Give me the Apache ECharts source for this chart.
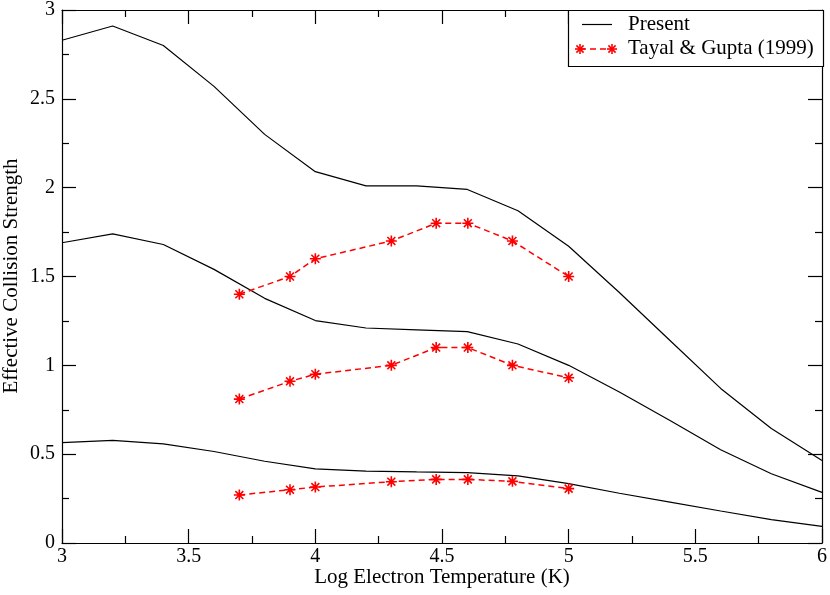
<!DOCTYPE html>
<html>
<head>
<meta charset="utf-8">
<script src="https://cdn.jsdelivr.net/npm/echarts@6/dist/echarts.min.js"></script>
<style>
  html, body { margin: 0; padding: 0; background: #fff; }
  #chart { width: 830px; height: 595px; }
</style>
</head>
<body>
<div id="chart"></div>
<script>
// log T grid of the present calculation
const tempPresent = [3.0, 3.2, 3.4, 3.6, 3.8, 4.0, 4.2, 4.4, 4.6, 4.8, 5.0, 5.2, 5.4, 5.6, 5.8, 6.0];
const presentA = [2.83, 2.91, 2.80, 2.57, 2.30, 2.09, 2.01, 2.01, 1.99, 1.87, 1.67, 1.41, 1.14, 0.87, 0.645, 0.465];
const presentB = [1.69, 1.74, 1.68, 1.54, 1.377, 1.252, 1.21, 1.20, 1.19, 1.12, 1.00, 0.85, 0.69, 0.525, 0.39, 0.285];
const presentC = [0.565, 0.578, 0.558, 0.515, 0.46, 0.417, 0.405, 0.40, 0.396, 0.378, 0.334, 0.28, 0.23, 0.18, 0.132, 0.094];

// Tayal & Gupta (1999)
const tempTayal = [3.7, 3.9, 4.0, 4.3, 4.477, 4.602, 4.778, 5.0];
const tayalA = [1.40, 1.50, 1.60, 1.70, 1.80, 1.80, 1.70, 1.50];
const tayalB = [0.81, 0.91, 0.95, 1.00, 1.10, 1.10, 1.00, 0.93];
const tayalC = [0.27, 0.30, 0.315, 0.345, 0.358, 0.358, 0.347, 0.306];

const xTicks = [3, 3.5, 4, 4.5, 5, 5.5, 6];
const yTicks = [0, 0.5, 1, 1.5, 2, 2.5, 3];

const FONT = "Liberation Serif";
const star = "path://M0,-5L0,5M-5,0L5,0M-3.6,-3.6L3.6,3.6M-3.6,3.6L3.6,-3.6";

const pairs = (xs, ys) => xs.map((x, i) => [x, ys[i]]);

const blackLine = (data) => ({
  name: "Present",
  type: "line",
  data: data,
  symbol: "none",
  lineStyle: { color: "#000", width: 1.2 },
  silent: true,
  z: 2,
});
const redLine = (data) => ({
  name: "Tayal & Gupta (1999)",
  type: "line",
  data: data,
  symbol: star,
  symbolSize: 11,
  itemStyle: { color: "#ff0000", borderColor: "#ff0000", borderWidth: 1.6 },
  lineStyle: { color: "#ff0000", width: 1.5, type: [6, 4] },
  silent: true,
  z: 3,
});

// legend drawn by hand so the red entry shows a symbol at both ends
const starLines = (cx, cy) => {
  const r = 5, d = 3.6;
  const segs = [[0, -r, 0, r], [-r, 0, r, 0], [-d, -d, d, d], [-d, d, d, -d]];
  return segs.map(s => ({
    type: "line",
    z: 12,
    shape: { x1: cx + s[0], y1: cy + s[1], x2: cx + s[2], y2: cy + s[3] },
    style: { stroke: "#ff0000", lineWidth: 1.6 },
  }));
};

const tickStyle = () => ({ show: true, inside: true, length: 14, lineStyle: { color: "#000", width: 1.2 } });
const minorStyle = () => ({ show: true, splitNumber: 2, length: 7, lineStyle: { color: "#000", width: 1.2 } });

const chart = echarts.init(document.getElementById("chart"));
chart.setOption({
  animation: false,
  backgroundColor: "#fff",
  grid: { left: 62, right: 7, top: 10, bottom: 52 },
  xAxis: [
    {
      type: "value", min: 3, max: 6, interval: 0.5,
      splitLine: { show: false },
      axisLine: { lineStyle: { color: "#000", width: 1.2 } },
      axisTick: tickStyle(),
      minorTick: minorStyle(),
      name: "Log Electron Temperature (K)",
      nameLocation: "middle",
      nameGap: 24,
      nameMoveOverlap: false,
      nameTextStyle: { fontFamily: FONT, fontSize: 21, color: "#000" },
      axisLabel: {
        fontFamily: FONT, fontSize: 20, color: "#000", margin: 4,
        formatter: v => xTicks.includes(v) ? String(v) : "",
      },
    },
    {
      type: "value", min: 3, max: 6, interval: 0.5, position: "top",
      splitLine: { show: false },
      axisLine: { onZero: false, lineStyle: { color: "#000", width: 1.2 } },
      axisTick: tickStyle(),
      minorTick: minorStyle(),
      axisLabel: { show: false },
    },
  ],
  yAxis: [
    {
      type: "value", min: 0, max: 3, interval: 0.5,
      splitLine: { show: false },
      axisLine: { show: true, lineStyle: { color: "#000", width: 1.2 } },
      axisTick: tickStyle(),
      minorTick: minorStyle(),
      axisLabel: {
        fontFamily: FONT, fontSize: 20, color: "#000", margin: 7,
        formatter: v => yTicks.includes(v) ? String(v) : "",
      },
    },
    {
      type: "value", min: 0, max: 3, interval: 0.5, position: "right",
      splitLine: { show: false },
      axisLine: { show: true, lineStyle: { color: "#000", width: 1.2 } },
      axisTick: tickStyle(),
      minorTick: minorStyle(),
      axisLabel: { show: false },
    },
  ],
  series: [
    blackLine(pairs(tempPresent, presentA)),
    blackLine(pairs(tempPresent, presentB)),
    blackLine(pairs(tempPresent, presentC)),
    redLine(pairs(tempTayal, tayalA)),
    redLine(pairs(tempTayal, tayalB)),
    redLine(pairs(tempTayal, tayalC)),
  ],
  graphic: [
    // y title placed by hand so the grid is not pushed right
    {
      type: "text", x: 11, y: 276, rotation: Math.PI / 2,
      style: {
        text: "Effective Collision Strength", font: "21px '" + FONT + "'",
        fill: "#000", align: "center", verticalAlign: "middle",
      },
    },
    {
      type: "rect", z: 10,
      shape: { x: 568.5, y: 10.5, width: 255, height: 56 },
      style: { fill: "#fff", stroke: "#000", lineWidth: 1.2 },
    },
    {
      type: "line", z: 11,
      shape: { x1: 582, y1: 24.5, x2: 612, y2: 24.5 },
      style: { stroke: "#000", lineWidth: 1.2 },
    },
    {
      type: "text", z: 11, x: 628, y: 24,
      style: { text: "Present", font: "21px '" + FONT + "'", fill: "#000", verticalAlign: "middle" },
    },
    {
      type: "line", z: 11,
      shape: { x1: 580, y1: 49, x2: 612, y2: 49 },
      style: { stroke: "#ff0000", lineWidth: 1.5, lineDash: [6, 4] },
    },
    { type: "group", z: 12, children: starLines(580, 49).concat(starLines(612, 49)) },
    {
      type: "text", z: 11, x: 628, y: 48,
      style: { text: "Tayal & Gupta (1999)", font: "21px '" + FONT + "'", fill: "#000", verticalAlign: "middle" },
    },
  ],
});
</script>
</body>
</html>
